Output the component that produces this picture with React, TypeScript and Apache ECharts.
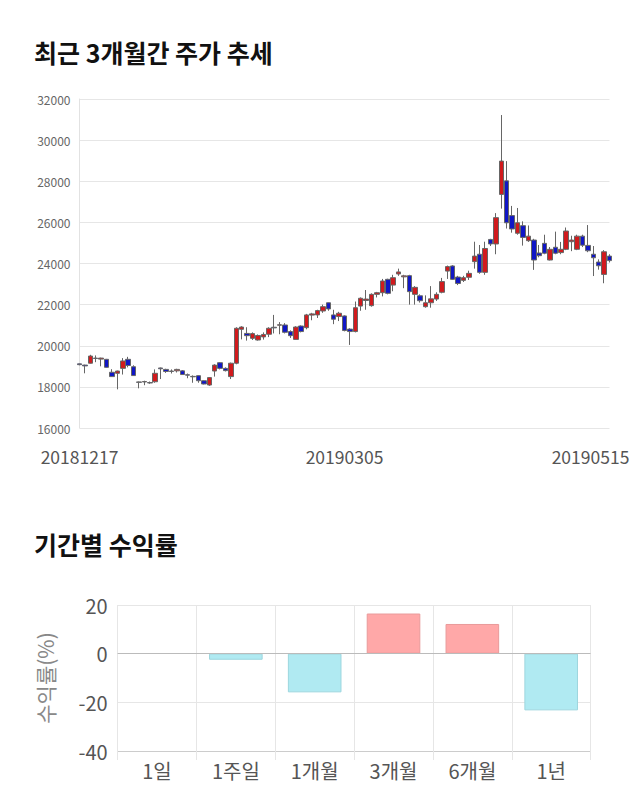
import React, { useEffect, useRef } from "react";
import * as echarts from "echarts";

const dates: string[] = [
  "20181217","20181218","20181219","20181220","20181221","20181224","20181226","20181227","20181228",
  "20190102","20190103","20190104","20190107","20190108","20190109","20190110","20190111","20190114","20190115","20190116","20190117","20190118","20190121","20190122","20190123","20190124","20190125","20190128","20190129","20190130","20190131",
  "20190201","20190207","20190208","20190211","20190212","20190213","20190214","20190215","20190218","20190219","20190220","20190221","20190222","20190225","20190226","20190227","20190228",
  "20190304","20190305","20190306","20190307","20190308","20190311","20190312","20190313","20190314","20190315","20190318","20190319","20190320","20190321","20190322","20190325","20190326","20190327","20190328","20190329",
  "20190401","20190402","20190403","20190404","20190405","20190408","20190409","20190410","20190411","20190412","20190415","20190416","20190417","20190418","20190419","20190422","20190423","20190424","20190425","20190426","20190429","20190430",
  "20190502","20190503","20190507","20190508","20190509","20190510","20190513","20190514","20190515",
];

// [open, close, low, high]
const ohlc: number[][] = [
  [19120,19080,19050,19130],[19060,19020,18660,19080],[19150,19500,19130,19560],[19400,19380,19200,19530],
  [19350,19400,19000,19420],[19340,18950,18930,19360],[18710,18500,18480,18860],[18660,18770,17880,18790],
  [18900,19260,18600,19400],[19340,19040,18950,19460],[18980,18550,18530,19050],[18240,18220,17930,18260],
  [18240,18260,18080,18300],[18210,18190,18150,18260],[18250,18660,18200,18850],[18920,18880,18380,18940],
  [18850,18750,18680,18880],[18770,18750,18650,18850],[18780,18850,18700,18880],[18780,18600,18580,18820],
  [18590,18570,18420,18650],[18510,18490,18200,18560],[18545,18300,18200,18560],[18300,18140,18120,18320],
  [18090,18450,18050,18470],[18770,19060,18500,19100],[19175,18900,18850,19200],[18900,18790,18750,18950],
  [18500,19150,18380,19180],[19150,20850,19100,20900],[20800,20910,20310,20950],[20600,20490,20250,20900],
  [20360,20590,20280,20650],[20280,20500,20250,20550],[20430,20550,20300,20650],[20560,20850,20420,20900],
  [20900,20870,20600,21500],[21000,21020,20560,21150],[21010,20655,20600,21100],[20690,20490,20380,20750],
  [20310,20910,20300,20950],[20960,20690,20650,20990],[20880,21500,20800,21550],[21490,21550,21240,21600],
  [21500,21710,21350,21750],[21690,21900,21600,22000],[22090,21790,21700,22100],[21500,21290,21050,21750],
  [21420,21580,21200,21650],[21450,20740,20700,21480],[20810,20690,20040,20850],[20690,21850,20650,22150],
  [21930,22310,21700,22350],[22200,22270,21750,22710],[21950,22500,21900,22550],[22500,22580,22350,22620],
  [22580,23150,22400,23250],[23230,22550,22500,23260],[22950,23310,22650,23450],[23490,23590,23400,23750],
  [23350,23400,22800,23450],[23410,22630,22000,23450],[22500,22840,22000,22900],[22430,22190,22100,22500],
  [21900,22090,21850,22450],[22090,22280,21850,22900],[22270,22500,22180,22600],[22600,23120,22550,23300],
  [23630,23850,23250,23900],[23880,23230,23200,23920],[23340,23030,22950,23400],[23180,23310,23100,23400],
  [23330,23520,23200,23650],[24090,24360,23750,25060],[24450,23570,23500,24900],[23570,24730,23450,25060],
  [25170,24950,24850,25200],[24950,26230,24450,26450],[27360,28980,26670,31220],[28020,25980,25700,28980],
  [26330,25680,25500,26800],[25470,25980,25400,26700],[25840,25270,24870,26050],[25110,25330,25050,25850],
  [25140,24170,23690,25200],[24510,24380,24300,24900],[24980,24500,24450,25400],[24170,24690,24150,24800],
  [24790,24500,24450,25550],[24530,24690,24450,25050],[24690,25580,24650,25750],[25060,25140,24600,25350],
  [24690,25330,24650,25400],[25330,24890,24800,25400],[24880,24620,24550,25870],[24450,24280,23390,24850],
  [24070,23890,23700,24200],[23470,24570,23040,24650],[24360,24140,24050,24450],
];

const priceMin = 16000;
const priceMax = 32000;
const priceStep = 2000;
const shownDateIdx = [0, 49, 98];

const periods: string[] = ["1일", "1주일", "1개월", "3개월", "6개월", "1년"];
const returns: number[] = [0, -2.5, -15.9, 16.5, 12.2, -23.3];

const FONT = "'Noto Sans CJK KR', 'Noto Sans', sans-serif";

export default function App() {
  const ref = useRef<HTMLDivElement>(null);
  useEffect(() => {
    if (!ref.current) return;
    const chart = echarts.init(ref.current, null, { renderer: "svg" });
    const last = dates.length - 1;
    chart.setOption({
      animation: false,
      backgroundColor: "#fff",
      textStyle: { fontFamily: FONT },
      title: [
        { text: "최근 3개월간 주가 추세", left: 29, top: 34, textStyle: { fontSize: 25, fontWeight: "bold", color: "#111", fontFamily: FONT } },
        { text: "기간별 수익률", left: 29, top: 526, textStyle: { fontSize: 25, fontWeight: "bold", color: "#111", fontFamily: FONT } },
      ],
      grid: [
        { left: 79.5, top: 99, width: 530, height: 329 },
        { left: 117.6, top: 605, width: 473, height: 146 },
      ],
      xAxis: [
        {
          type: "category",
          gridIndex: 0,
          data: dates,
          boundaryGap: false,
          axisLine: { show: false },
          axisTick: { show: false },
          splitLine: { show: false },
          axisLabel: {
            interval: (i: number) => shownDateIdx.includes(i),
            formatter: (v: string, i: number) => (i === last ? `{r|${v}}` : v),
            fontSize: 17.5,
            color: "#555",
            margin: 20,
            fontFamily: FONT,
            rich: { r: { fontSize: 17.5, color: "#555", padding: [0, 38, 0, 0], fontFamily: FONT } },
          },
        },
        {
          type: "category",
          gridIndex: 1,
          data: periods,
          axisLine: { onZero: false, lineStyle: { color: "#ccc" } },
          axisTick: { show: true, length: 9, lineStyle: { color: "#e6e6e6" } },
          splitLine: { show: true, lineStyle: { color: "#e6e6e6" } },
          axisLabel: { fontSize: 20, color: "#555", margin: 9, fontFamily: FONT },
        },
      ],
      yAxis: [
        {
          type: "value",
          gridIndex: 0,
          min: priceMin,
          max: priceMax,
          interval: priceStep,
          axisLine: { show: true, lineStyle: { color: "#e2e2e2" } },
          axisTick: { show: false },
          splitLine: { lineStyle: { color: "#e6e6e6" } },
          axisLabel: { fontSize: 12, color: "#666", margin: 9, fontFamily: FONT, formatter: (v: number) => String(v) },
        },
        {
          type: "value",
          gridIndex: 1,
          min: -40,
          max: 20,
          interval: 20,
          name: "수익률(%)",
          nameLocation: "middle",
          nameGap: 62,
          nameTextStyle: { fontSize: 21, color: "#888", fontFamily: FONT },
          axisLine: { show: false },
          axisTick: { show: false },
          splitLine: { lineStyle: { color: "#e6e6e6" } },
          axisLabel: { fontSize: 20, color: "#555", margin: 10, fontFamily: FONT },
        },
      ],
      series: [
        {
          type: "candlestick",
          xAxisIndex: 0,
          yAxisIndex: 0,
          data: ohlc,
          barWidth: 5,
          itemStyle: {
            color: "#d11a1d",
            color0: "#1016c6",
            borderColor: "#666",
            borderColor0: "#666",
            borderWidth: 1,
          },
        },
        {
          type: "bar",
          xAxisIndex: 1,
          yAxisIndex: 1,
          barWidth: "68%",
          data: returns.map((v) => ({
            value: v,
            itemStyle: v === 0
              ? { color: "transparent", borderWidth: 0 }
              : v > 0
              ? { color: "#ffa8a8", borderColor: "#e99a9a", borderWidth: 1 }
              : { color: "#b0eaf2", borderColor: "#9dd6de", borderWidth: 1 },
          })),
          markLine: {
            silent: true,
            symbol: "none",
            label: { show: false },
            lineStyle: { color: "#bbb", type: "solid", width: 1 },
            data: [{ yAxis: 0 }],
          },
        },
      ],
    });
    return () => chart.dispose();
  }, []);
  return <div ref={ref} style={{ position: "absolute", left: 0, top: 0, width: 640, height: 810 }} />;
}
